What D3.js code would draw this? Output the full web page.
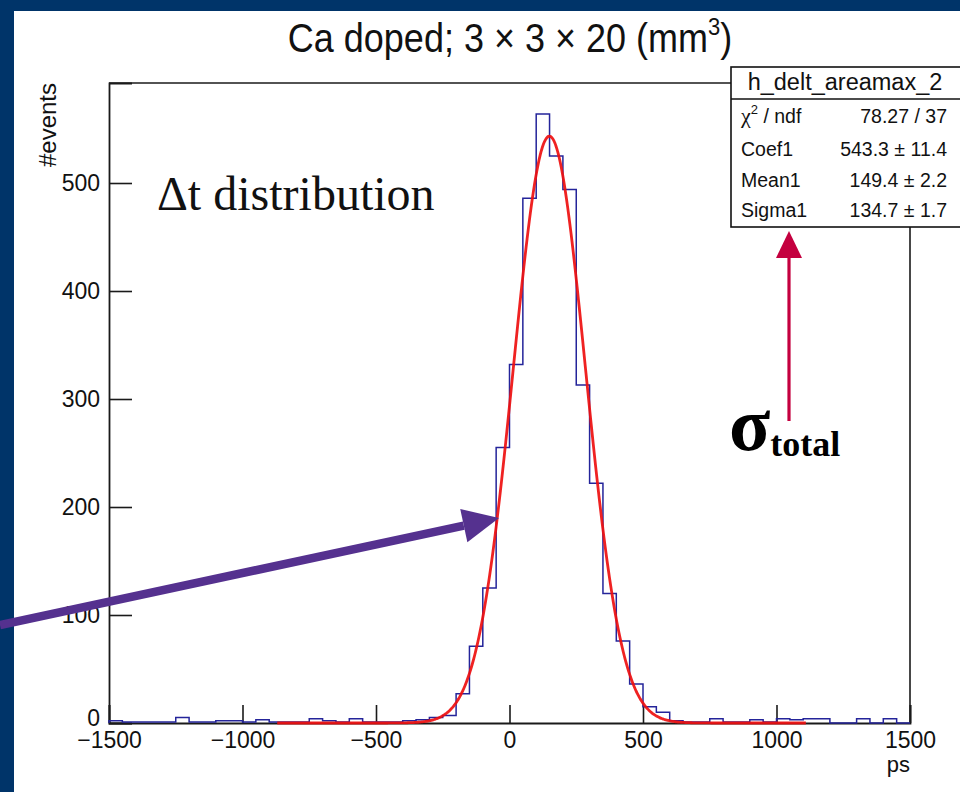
<!DOCTYPE html>
<html>
<head>
<meta charset="utf-8">
<script src="https://cdn.jsdelivr.net/npm/d3@7/dist/d3.min.js"></script>
<style>
  html, body { margin: 0; padding: 0; background: #003469; }
  svg { display: block; }
  .sans { font-family: "Liberation Sans", Arial, Helvetica, sans-serif; }
  .serif { font-family: "Liberation Serif", "Times New Roman", Times, serif; }
</style>
</head>
<body>
<svg id="chart" width="960" height="792"></svg>
<script>
// ---------------- data ----------------
const xMin = -1500, xMax = 1500, binWidth = 50;
// bin contents of the Δt histogram, 60 bins of 50 ps from -1500 to 1500
const counts = [
  2, 1, 1, 1, 1, 5, 1, 1, 2, 2,      // -1500 .. -1000
  1, 3, 1, 1, 1, 4, 2, 1, 4, 1,      // -1000 .. -500
  1, 1, 2, 3, 5, 7, 27, 71, 125, 255,// -500 .. 0
  332, 486, 564, 525, 494, 313, 222, 120, 76, 36, // 0 .. 500
  15, 10, 2, 1, 1, 4, 1, 1, 3, 1,    // 500 .. 1000
  4, 3, 4, 4, 0, 0, 4, 0, 4, 0       // 1000 .. 1500
];
// Gaussian fit parameters from the stats box: Coef1, Mean1, Sigma1
const fitParams = [543.3, 149.4, 134.7];
const fitRange = [-870, 1110];
const xMajorTicks = [-1500, -1000, -500, 0, 500, 1000, 1500];
const xMinorTicks = d3.range(-1500, 1501, 100);
const yMajorTicks = [0, 100, 200, 300, 400, 500];
const yMinorTicks = d3.range(0, 581, 20);
const yTop = 592.6;
const statsLabels = ["χ", "Coef1", "Mean1", "Sigma1"];
const statsValues = ["78.27 / 37", "543.3 ± 11.4", "149.4 ± 2.2", "134.7 ± 1.7"];
const statsTitle = "h_delt_areamax_2";

// ---------------- drawing ----------------
const svg = d3.select("#chart");
svg.append("rect").attr("x", 0).attr("y", 0).attr("width", 960).attr("height", 792).attr("fill", "#003469");
svg.append("rect").attr("x", 14).attr("y", 11).attr("width", 946).attr("height", 781).attr("fill", "#ffffff");

const x = d3.scaleLinear().domain([xMin, xMax]).range([109, 910]);
const y = d3.scaleLinear().domain([0, yTop]).range([723, 83]);

const axisColor = "#1a1a1a";

// frame top & right
svg.append("line").attr("x1", x(xMin)).attr("x2", x(xMax)).attr("y1", y(yTop)).attr("y2", y(yTop))
  .attr("stroke", axisColor).attr("stroke-width", 1.6);
svg.append("line").attr("x1", x(xMax)).attr("x2", x(xMax)).attr("y1", y(yTop)).attr("y2", y(0))
  .attr("stroke", axisColor).attr("stroke-width", 1.6);

// x axis
const gx = svg.append("g").attr("transform", `translate(0,${y(0)})`);
gx.call(d3.axisBottom(x).tickValues(xMinorTicks).tickSize(-9).tickFormat(""));
gx.call(d3.axisBottom(x).tickValues(xMajorTicks).tickSize(-18).tickPadding(9)
  .tickFormat(d3.format("d")));
gx.selectAll("path.domain").attr("stroke", axisColor).attr("stroke-width", 1.8);
gx.selectAll(".tick line").attr("stroke", axisColor).attr("stroke-width", 1.6);
gx.selectAll("text").attr("font-size", 23).attr("fill", "#111")
  .style("font-family", "'Liberation Sans', Arial, sans-serif");

// y axis
const gy = svg.append("g").attr("transform", `translate(${x(xMin)},0)`);
gy.call(d3.axisLeft(y).tickValues(yMinorTicks).tickSize(-11).tickFormat(""));
gy.call(d3.axisLeft(y).tickValues(yMajorTicks).tickSize(-23).tickPadding(9)
  .tickFormat(d3.format("d")));
gy.selectAll("path.domain").attr("stroke", axisColor).attr("stroke-width", 1.8);
gy.selectAll(".tick line").attr("stroke", axisColor).attr("stroke-width", 1.6);
gy.selectAll("text").attr("font-size", 23).attr("fill", "#111")
  .style("font-family", "'Liberation Sans', Arial, sans-serif");
// the "0" label sits just above the x labels, as in the reference
gy.selectAll(".tick text").filter(d => d === 0).attr("dy", "0.1em");

// axis titles
svg.append("text").attr("class", "sans").attr("x", 910).attr("y", 772).attr("text-anchor", "end")
  .attr("font-size", 22).attr("fill", "#111").text("ps");
svg.append("text").attr("class", "sans").attr("transform", `translate(56,${y(yTop)}) rotate(-90)`)
  .attr("text-anchor", "end").attr("font-size", 24).attr("fill", "#111").text("#events");

// histogram outline
const histPts = [[xMin, 0]];
counts.forEach((c, i) => {
  const lo = xMin + i * binWidth;
  histPts.push([lo, c], [lo + binWidth, c]);
});
histPts.push([xMax, 0]);
svg.append("path").datum(histPts)
  .attr("d", d3.line().x(d => x(d[0])).y(d => y(d[1])))
  .attr("fill", "none").attr("stroke", "#24249a").attr("stroke-width", 1.5);

// fit curve
const [A, mu, sg] = fitParams;
const fitPts = d3.range(fitRange[0], fitRange[1] + 0.1, 4).map(v => [v, A * Math.exp(-0.5 * ((v - mu) / sg) ** 2)]);
svg.append("path").datum(fitPts)
  .attr("d", d3.line().x(d => x(d[0])).y(d => y(d[1])).curve(d3.curveMonotoneX))
  .attr("fill", "none").attr("stroke", "#ee0f0f").attr("stroke-width", 2.8)
  .attr("stroke-opacity", 0.92);

// stats box
const sb = svg.append("g");
sb.append("rect").attr("x", 731).attr("y", 67).attr("width", 240).attr("height", 160)
  .attr("fill", "#fff").attr("stroke", "#111").attr("stroke-width", 1.6);
sb.append("line").attr("x1", 731).attr("x2", 960).attr("y1", 99).attr("y2", 99)
  .attr("stroke", "#111").attr("stroke-width", 1.4);
sb.append("text").attr("class", "sans").attr("x", 845).attr("y", 90).attr("text-anchor", "middle")
  .attr("font-size", 23.5).attr("fill", "#111").text(statsTitle);
const rowBase = [123, 156, 187, 217];
statsLabels.forEach((lab, i) => {
  const t = sb.append("text").attr("class", "sans").attr("x", 741).attr("y", rowBase[i])
    .attr("font-size", 19.5).attr("fill", "#111");
  if (i === 0) {
    t.append("tspan").attr("class", "serif").attr("font-size", 22).text(lab);
    t.append("tspan").attr("font-size", 13).attr("dy", -9).text("2");
    t.append("tspan").attr("dy", 9).text(" / ndf");
  } else {
    t.text(lab);
  }
  sb.append("text").attr("class", "sans").attr("x", 947).attr("y", rowBase[i]).attr("text-anchor", "end")
    .attr("font-size", 19.5).attr("fill", "#111").text(statsValues[i]);
});

// title
const title = svg.append("text").attr("class", "sans").attr("transform", "translate(510,52) scale(1,1.12)")
  .attr("text-anchor", "middle").attr("font-size", 36).attr("fill", "#111");
title.append("tspan").text("Ca doped; 3 × 3 × 20 (mm");
title.append("tspan").attr("font-size", 22).attr("dy", -15).text("3");
title.append("tspan").attr("dy", 15).text(")");

// annotation text
svg.append("text").attr("class", "serif").attr("transform", "translate(157,210)")
  .attr("font-size", 48).attr("fill", "#111").text("Δt distribution");

const sig = svg.append("text").attr("class", "serif").attr("x", 729).attr("y", 450)
  .attr("font-weight", "bold").attr("fill", "#000");
sig.append("tspan").attr("font-size", 76).text("σ");
sig.append("tspan").attr("font-size", 36).attr("dy", 6).text("total");

// red arrow (up to stats box)
const redCol = "#c4003f";
svg.append("line").attr("x1", 789).attr("x2", 789).attr("y1", 421).attr("y2", 252)
  .attr("stroke", redCol).attr("stroke-width", 3.2);
svg.append("path").attr("d", "M789,231 L776,258 L802,258 Z").attr("fill", redCol);

// purple arrow
const purp = "#55318f";
const p0 = [0, 625], tip = [499, 518];
const ang = Math.atan2(tip[1] - p0[1], tip[0] - p0[0]);
const headLen = 36, headHalf = 17;
const base = [tip[0] - headLen * Math.cos(ang), tip[1] - headLen * Math.sin(ang)];
svg.append("line").attr("x1", p0[0]).attr("y1", p0[1]).attr("x2", base[0]).attr("y2", base[1])
  .attr("stroke", purp).attr("stroke-width", 8.5);
const nx = -Math.sin(ang), ny = Math.cos(ang);
svg.append("path").attr("d",
  `M${tip[0]},${tip[1]} L${base[0] + nx * headHalf},${base[1] + ny * headHalf} L${base[0] - nx * headHalf},${base[1] - ny * headHalf} Z`)
  .attr("fill", purp);
</script>
</body>
</html>
